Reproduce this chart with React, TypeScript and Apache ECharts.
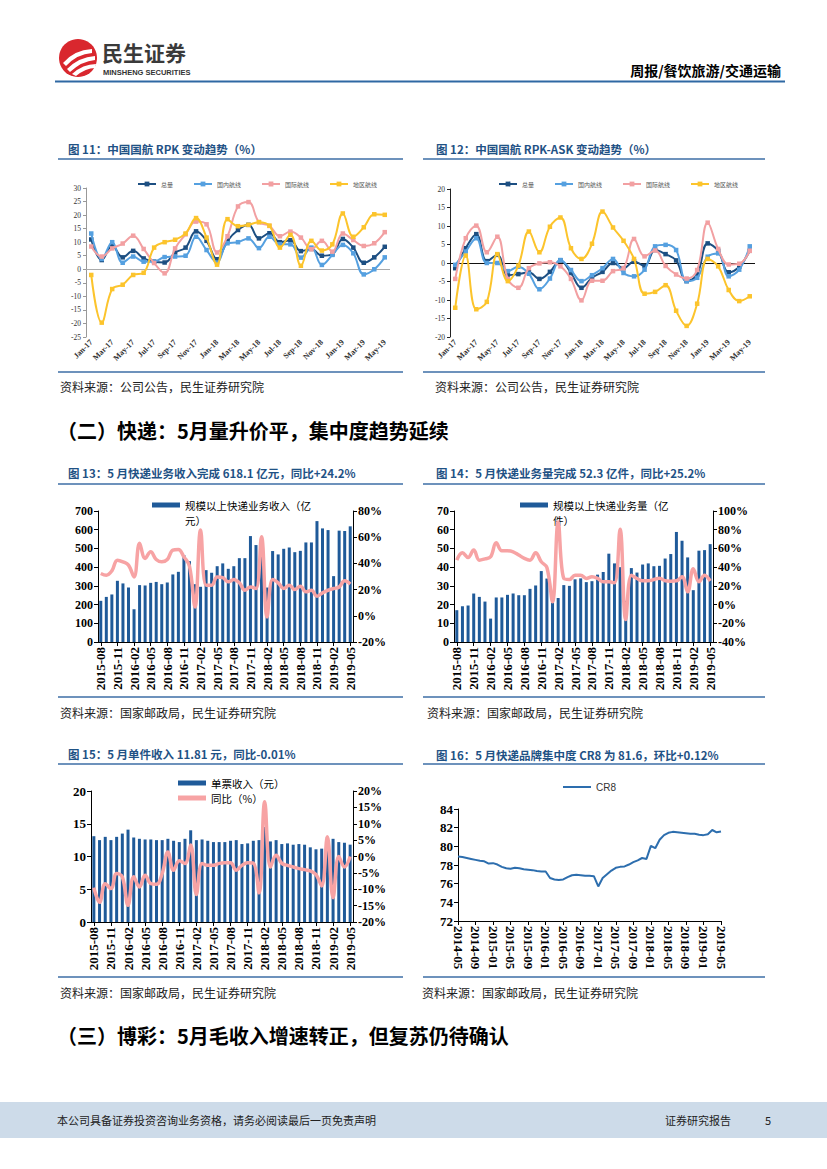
import React, { useEffect, useRef } from 'react';
import * as echarts from 'echarts';

// ---------- Chart 11 / 12 data (中国国航) ----------
const rpkMonths = ['Jan-17','Feb-17','Mar-17','Apr-17','May-17','Jun-17','Jul-17','Aug-17','Sep-17','Oct-17','Nov-17','Dec-17','Jan-18','Feb-18','Mar-18','Apr-18','May-18','Jun-18','Jul-18','Aug-18','Sep-18','Oct-18','Nov-18','Dec-18','Jan-19','Feb-19','Mar-19','Apr-19','May-19'];
const airNames = ['总量', '国内航线', '国际航线', '地区航线'];
const rpkTotal = [11, 3.4, 8.7, 4.4, 6.8, 4, 2.8, 2.5, 6.2, 8, 14, 10.5, 3.7, 10.5, 14.5, 16.4, 11.4, 13.3, 10, 10.7, 6.7, 7.5, 5, 5.5, 11.2, 8, 2.4, 4.4, 8.3];
const rpkDomestic = [13.2, 3.8, 10, 2.4, 4.7, 2.8, 2.8, 4.5, 4.7, 5, 12, 7.1, 2.5, 9.6, 10, 11.4, 7.8, 12, 9.2, 9.2, 4.3, 8, 1.6, 5.3, 9, 5.9, -1.9, 0, 4.4];
const rpkIntl = [8.4, 4.7, 7.7, 9.5, 12.4, 7.5, 2.3, -1.5, 7.7, 12.9, 17.6, 16.6, 6.2, 12.2, 23.2, 24.8, 17.4, 16, 12.2, 13.9, 11.7, 7.4, 10.5, 6.5, 13.2, 10.8, 8.6, 9.6, 13.7];
const rpkRegional = [-2.1, -19.7, -7.3, -5.7, -2.1, -1.3, 8, 10, 10.9, 13.2, 18.9, 11.7, 1.7, 18.5, 15.9, 16.4, 17.4, 16.1, 8, 12.7, 1.3, 10.5, 6.9, 9.2, 20.6, 12, 15.5, 20.3, 20.1];

const gapTotal = [-1.4, 4, 7.8, 0.5, 2.2, -3.3, -3, -2.5, -4.3, -2.4, 0.7, -2.7, -6.7, -4, -2.4, 0, -1.4, 0.4, -0.8, 3.5, 2.4, 0.7, -4.9, -3.1, 5.3, 3.3, -2.5, -1, 3.3];
const gapDomestic = [-0.5, 3.1, 6.7, 0, 0, -2.2, -1, -2.9, -7.1, -4.2, 0.8, -1.9, -4.9, -3.3, -1.4, 1.1, -2.7, -3.6, -1.8, 4.5, 4.9, 3.5, -4.9, -4, 1.7, 2.6, -3.6, -1.8, 4.5];
const gapIntl = [-4.3, 6.7, 10.1, 2.9, 7.1, -4.3, -6.7, -1.4, -0.1, 0.2, -0.9, -4.3, -10.1, -4.8, -4.8, -2.2, -1.4, 6.5, 1.8, 3.4, -0.8, -3.1, -4.2, -1.9, 10.9, 3.8, -0.4, -0.2, 3.3];
const gapRegional = [-12.1, 2, -12.5, -10.5, 2.4, -4.9, -0.7, 8.5, 2.9, 9.8, 12.3, 4, 1.1, 5.2, 13.9, 9.6, 6, 1.1, -8.3, -7.8, -6, -12.9, -17, -11, 1.1, -0.9, -7.3, -10.3, -9];

// ---------- Chart 13 / 14 / 15 data (快递) ----------
const exMonths = ['2015-08','2015-09','2015-10','2015-11','2015-12','2016-01','2016-02','2016-03','2016-04','2016-05','2016-06','2016-07','2016-08','2016-09','2016-10','2016-11','2016-12','2017-01','2017-02','2017-03','2017-04','2017-05','2017-06','2017-07','2017-08','2017-09','2017-10','2017-11','2017-12','2018-01','2018-02','2018-03','2018-04','2018-05','2018-06','2018-07','2018-08','2018-09','2018-10','2018-11','2018-12','2019-01','2019-02','2019-03','2019-04','2019-05'];
const revenue = [220, 241, 254, 327, 313, 291, 175, 304, 302, 316, 321, 309, 318, 361, 375, 464, 432, 309, 295, 384, 370, 405, 420, 391, 405, 448, 448, 566, 518, 500, 291, 486, 468, 498, 505, 480, 487, 532, 532, 646, 607, 598, 352, 595, 593, 618.1];
const revenueYoy = [32.3, 31, 34.3, 42.5, 41.2, 38.7, 29.7, 55.3, 43.8, 48.9, 43, 41.2, 43, 50.2, 50.7, 45, 37.9, 6.8, 65.5, 23.4, 23.4, 29.7, 29.2, 25.9, 27.7, 25.2, 19.5, 22, 20.8, 60.4, -0.9, 27.7, 25.2, 20.8, 23.4, 20, 22.6, 18.3, 19.5, 15, 17.5, 19.5, 20.8, 22, 26.7, 24.2];
const volume = [17, 19.1, 19.5, 25.9, 24.1, 21.6, 12.5, 23.8, 23.8, 25.2, 25.9, 25, 25, 28.4, 30.2, 37.9, 33.9, 21, 23.5, 30.4, 30, 33.5, 34, 32, 32.5, 36, 37.4, 47.2, 42, 40, 22, 39.5, 37.1, 41.4, 42, 40.5, 40.7, 44.6, 47, 58.8, 54.1, 45.2, 27.7, 48.8, 49.1, 52.3];
const volumeYoy = [47.5, 55.4, 50.4, 58.2, 47.5, 48.9, 51, 66, 57.5, 57.5, 56.4, 52.9, 49.3, 47.5, 55.4, 45.7, 39.6, 2.9, 88.2, 27.9, 26.8, 31.4, 31.4, 27.9, 29.6, 27.9, 24.3, 24.3, 23.2, 80.4, -16, 31.4, 27.9, 25.4, 25.4, 26.8, 28.2, 25.4, 25, 25.4, 29.6, 13.6, 38.2, 24.3, 31.4, 25.2];
const unitPrice = [13.1, 12.5, 13, 12.5, 13, 13.5, 14.1, 12.9, 12.7, 12.6, 12.6, 12.5, 12.5, 12.7, 12.4, 12.2, 12.7, 14, 12.5, 12.6, 12.4, 12.2, 12.2, 12.2, 12.4, 12.5, 11.9, 12, 12.4, 12.5, 14.5, 12.3, 12.5, 11.9, 12, 11.8, 11.9, 11.8, 11.4, 11.1, 11.2, 13, 12.7, 12.2, 12.1, 11.81];
const unitPriceYoy = [-9.5, -14, -8.3, -9.8, -5.2, -6.2, -14.9, -6.2, -9.3, -5.7, -8.3, -8.5, -5.2, 1.4, -4.2, -1.3, -2.1, 3.5, -11.6, -2.1, -2.7, -2.7, -2.1, -1.9, -1.9, -4.2, -2.7, -1.9, -2, -11.1, 16.7, -3.2, 0.4, -2.1, -2.7, -3.2, -3.7, -4, -4.4, -5.5, -9, 6, -12.6, 0, -3.2, -0.01];

// ---------- Chart 16 data (CR8) ----------
const crMonths = ['2014-05','2014-06','2014-07','2014-08','2014-09','2014-10','2014-11','2014-12','2015-01','2015-02','2015-03','2015-04','2015-05','2015-06','2015-07','2015-08','2015-09','2015-10','2015-11','2015-12','2016-01','2016-02','2016-03','2016-04','2016-05','2016-06','2016-07','2016-08','2016-09','2016-10','2016-11','2016-12','2017-01','2017-02','2017-03','2017-04','2017-05','2017-06','2017-07','2017-08','2017-09','2017-10','2017-11','2017-12','2018-01','2018-02','2018-03','2018-04','2018-05','2018-06','2018-07','2018-08','2018-09','2018-10','2018-11','2018-12','2019-01','2019-02','2019-03','2019-04','2019-05'];
const cr8 = [78.9, 78.85, 78.75, 78.65, 78.55, 78.45, 78.4, 78.15, 78.2, 78.05, 77.8, 77.65, 77.6, 77.7, 77.65, 77.55, 77.5, 77.45, 77.35, 77.3, 77.3, 76.6, 76.45, 76.4, 76.45, 76.7, 76.9, 76.95, 76.9, 76.85, 76.85, 76.8, 75.7, 76.6, 77.0, 77.4, 77.7, 77.8, 77.85, 78.05, 78.3, 78.5, 78.75, 78.65, 80.05, 79.8, 80.7, 81.2, 81.45, 81.55, 81.5, 81.45, 81.4, 81.35, 81.35, 81.25, 81.2, 81.3, 81.75, 81.5, 81.6];

const SERIF = 'Liberation Serif';
const CJK = 'Noto Sans CJK SC';
const airColors = ['#1d4f82', '#55a0e0', '#f2a0a2', '#fcc42c'];
const BAR = '#1f5a99';
const PINK = '#f7a3a4';
const TITLE = '#1f5285';
const RULE = '#3c6ea6';

echarts.graphic.registerShape(
  'logoStripes',
  echarts.graphic.extendPath(
    'M5,25 Q16,12 34,11 L34,15 Q19,16 8,28 Z M9,31 Q21,19 37,18 L37,22 Q24,23 12,34 Z M14,36 Q25,26 38,26 L37,30 Q28,30 18,38 Z',
    {}
  )
);

const txt = (text: string, x: number, y: number, size: number, o: any = {}) => ({
  type: 'text', x, y, silent: true,
  style: {
    text, fontSize: size, fontFamily: o.family || CJK, fontWeight: o.weight || 'normal',
    fill: o.color || '#000', align: o.align || 'left', verticalAlign: 'middle',
  },
});
const rule = (x1: number, x2: number, y: number, color = RULE, w = 1.5) => ({
  type: 'line', silent: true, shape: { x1, y1: y, x2, y2: y }, style: { stroke: color, lineWidth: w },
});

function airSeries(datas: number[][], xi: number, yi: number, zeroColor: string) {
  return datas.map((d, k) => ({
    type: 'line', name: airNames[k], data: d, xAxisIndex: xi, yAxisIndex: yi,
    smooth: 0.4, symbol: 'rect', symbolSize: 4.5, z: 3 + k,
    lineStyle: { width: 2, color: airColors[k] }, itemStyle: { color: airColors[k] },
    ...(k === 0 ? {
      markLine: {
        silent: true, symbol: 'none', label: { show: false }, z: 1,
        lineStyle: { color: zeroColor, width: 1, type: 'solid' }, data: [{ yAxis: 0 }],
      },
    } : {}),
  }));
}

const smallCat = (gridIndex: number) => ({
  gridIndex, type: 'category', data: rpkMonths, boundaryGap: true,
  axisLine: { show: false }, axisTick: { show: false },
  axisLabel: { interval: 1, rotate: 45, fontSize: 8, fontFamily: SERIF, fontWeight: 'bold', color: '#333', margin: 4 },
});
const smallVal = (gridIndex: number, min: number, max: number, color: string) => ({
  gridIndex, type: 'value', min, max, interval: 5,
  axisLine: { show: true, lineStyle: { color } }, axisTick: { show: true, length: 3, lineStyle: { color } },
  splitLine: { show: false },
  axisLabel: { fontSize: 7.5, fontFamily: SERIF, color: '#333', margin: 5 },
});
const bigCat = (gridIndex: number, data: string[], interval: number, rotate: number, boundaryGap: boolean, fontSize: number) => ({
  gridIndex, type: 'category', data, boundaryGap,
  axisLine: { show: true, lineStyle: { color: '#000' } },
  axisTick: { show: true, interval, alignWithLabel: true, length: 4, lineStyle: { color: '#000' } },
  axisLabel: { interval, rotate, fontFamily: SERIF, fontWeight: 'bold', fontSize, color: '#000', margin: 5 },
});
const bigVal = (gridIndex: number, min: number, max: number, interval: number, position: string, pct: boolean, fontSize = 12) => ({
  gridIndex, type: 'value', min, max, interval, position,
  axisLine: { show: true, lineStyle: { color: '#000' } },
  axisTick: { show: true, length: 4, lineStyle: { color: '#000' } },
  splitLine: { show: false },
  axisLabel: { fontFamily: SERIF, fontWeight: 'bold', fontSize, color: '#000', margin: 5, formatter: pct ? '{value}%' : '{value}' },
});

function buildOption() {
  const graphics: any[] = [
    // header
    { type: 'circle', silent: true, shape: { cx: 78, cy: 58, r: 19 }, style: { fill: '#d9272e' } },
    { type: 'logoStripes', silent: true, x: 58, y: 38, style: { fill: '#ffffff' } },
    txt('民生证券', 102, 51.5, 21, { weight: 'bold', color: '#3a3a3a' }),
    txt('MINSHENG SECURITIES', 103, 72.5, 7.5, { weight: 'bold', color: '#333', family: 'Liberation Sans' }),
    txt('周报/餐饮旅游/交通运输', 781, 70, 14, { weight: 'bold', align: 'right' }),
    rule(55, 785, 81.5, '#2f68a3', 2),
    // chart titles and rules
    txt('图 11：中国国航 RPK 变动趋势（%）', 68, 149, 11.5, { weight: 'bold', color: TITLE }),
    txt('图 12：中国国航 RPK-ASK 变动趋势（%）', 436, 149, 11.5, { weight: 'bold', color: TITLE }),
    rule(58, 403, 159), rule(423, 765, 159),
    rule(58, 403, 372), rule(423, 765, 372),
    txt('资料来源：公司公告，民生证券研究院', 60, 386, 12, { color: '#222' }),
    txt('资料来源：公司公告，民生证券研究院', 435, 386, 12, { color: '#222' }),
    txt('（二）快递：5月量升价平，集中度趋势延续', 57, 430, 20, { weight: 'bold' }),
    txt('图 13：5 月快递业务收入完成 618.1 亿元，同比+24.2%', 68, 473, 11.5, { weight: 'bold', color: TITLE }),
    txt('图 14：5 月快递业务量完成 52.3 亿件，同比+25.2%', 436, 473, 11.5, { weight: 'bold', color: TITLE }),
    rule(58, 403, 484), rule(423, 765, 484),
    rule(58, 403, 697), rule(423, 765, 697),
    txt('资料来源：国家邮政局，民生证券研究院', 60, 712, 12, { color: '#222' }),
    txt('资料来源：国家邮政局，民生证券研究院', 427, 712, 12, { color: '#222' }),
    txt('图 15：5 月单件收入 11.81 元，同比-0.01%', 68, 754, 11.5, { weight: 'bold', color: TITLE }),
    txt('图 16：5 月快递品牌集中度 CR8 为 81.6，环比+0.12%', 436, 755, 11.5, { weight: 'bold', color: TITLE }),
    rule(58, 403, 764), rule(423, 765, 764),
    rule(58, 403, 977), rule(423, 765, 977),
    txt('资料来源：国家邮政局，民生证券研究院', 60, 992, 12, { color: '#222' }),
    txt('资料来源：国家邮政局，民生证券研究院', 422, 992, 12, { color: '#222' }),
    txt('（三）博彩：5月毛收入增速转正，但复苏仍待确认', 57, 1035, 20, { weight: 'bold' }),
    // footer
    { type: 'rect', silent: true, shape: { x: 0, y: 1102, width: 827, height: 36 }, style: { fill: '#cddbe9' } },
    txt('本公司具备证券投资咨询业务资格，请务必阅读最后一页免责声明', 57, 1120, 11, { color: '#222' }),
    txt('证券研究报告', 665, 1120, 11, { color: '#222' }),
    txt('5', 765, 1120, 11, { color: '#222' }),
  ];

  const splitLegend = (name: string) => '\n' + name.slice(0, -2) + '\n' + name.slice(-2);

  return {
    animation: false,
    backgroundColor: '#ffffff',
    grid: [
      { left: 86, top: 188, width: 304, height: 149 },
      { left: 450, top: 189, width: 305, height: 148 },
      { left: 98, top: 511, width: 255, height: 131 },
      { left: 454, top: 511, width: 259, height: 131 },
      { left: 91, top: 791, width: 262, height: 131 },
      { left: 458, top: 809, width: 263, height: 112 },
    ],
    legend: [
      {
        left: 137, top: 181, padding: 0, itemWidth: 18, itemHeight: 6, itemGap: 20,
        textStyle: { fontSize: 6, color: '#555', fontFamily: CJK }, data: airNames,
      },
      {
        left: 498, top: 181, padding: 0, itemWidth: 18, itemHeight: 6, itemGap: 20,
        textStyle: { fontSize: 6, color: '#555', fontFamily: CJK }, data: airNames,
      },
      {
        left: 152, top: 482.5, padding: 0, itemWidth: 28, itemHeight: 5,
        formatter: splitLegend,
        textStyle: { fontSize: 10.5, lineHeight: 15, color: '#000', fontFamily: CJK },
        data: [{ name: '规模以上快递业务收入（亿元）', icon: 'rect' }],
      },
      {
        left: 520, top: 482.5, padding: 0, itemWidth: 28, itemHeight: 5,
        formatter: splitLegend,
        textStyle: { fontSize: 10.5, lineHeight: 15, color: '#000', fontFamily: CJK },
        data: [{ name: '规模以上快递业务量（亿件）', icon: 'rect' }],
      },
      {
        left: 178, top: 777, padding: 0, orient: 'vertical', itemWidth: 28, itemHeight: 5, itemGap: 3,
        textStyle: { fontSize: 10.5, lineHeight: 12, color: '#000', fontFamily: CJK },
        data: [{ name: '单票收入（元）', icon: 'rect' }, { name: '同比（%）', icon: 'rect' }],
      },
      {
        left: 563, top: 781, padding: 0, itemWidth: 28, itemHeight: 2,
        textStyle: { fontSize: 10, lineHeight: 12, color: '#333', fontFamily: 'Liberation Sans' },
        data: [{ name: 'CR8', icon: 'rect' }],
      },
    ],
    xAxis: [
      smallCat(0),
      smallCat(1),
      bigCat(2, exMonths, 2, 90, true, 13),
      bigCat(3, exMonths, 2, 90, true, 13),
      bigCat(4, exMonths, 2, 90, true, 13),
      bigCat(5, crMonths, 3, -90, false, 13),
    ],
    yAxis: [
      smallVal(0, -25, 30, '#999'),
      smallVal(1, -20, 20, '#222'),
      bigVal(2, 0, 700, 100, 'left', false),
      bigVal(2, -20, 80, 20, 'right', true),
      bigVal(3, 0, 70, 10, 'left', false),
      bigVal(3, -40, 100, 20, 'right', true),
      bigVal(4, 0, 20, 5, 'left', false, 13),
      bigVal(4, -20, 20, 5, 'right', true),
      bigVal(5, 72, 84, 2, 'left', false, 13),
    ],
    series: [
      ...airSeries([rpkTotal, rpkDomestic, rpkIntl, rpkRegional], 0, 0, '#aaa'),
      ...airSeries([gapTotal, gapDomestic, gapIntl, gapRegional], 1, 1, '#111'),
      {
        type: 'bar', name: '规模以上快递业务收入（亿元）', data: revenue, xAxisIndex: 2, yAxisIndex: 2,
        barWidth: 3, itemStyle: { color: BAR },
      },
      {
        type: 'line', name: '快递业务收入同比', data: revenueYoy, xAxisIndex: 2, yAxisIndex: 3,
        smooth: 0.4, showSymbol: false, lineStyle: { width: 3.5, color: PINK }, itemStyle: { color: PINK }, z: 5,
      },
      {
        type: 'bar', name: '规模以上快递业务量（亿件）', data: volume, xAxisIndex: 3, yAxisIndex: 4,
        barWidth: 3, itemStyle: { color: BAR },
      },
      {
        type: 'line', name: '快递业务量同比', data: volumeYoy, xAxisIndex: 3, yAxisIndex: 5,
        smooth: 0.4, showSymbol: false, lineStyle: { width: 3.5, color: PINK }, itemStyle: { color: PINK }, z: 5,
      },
      {
        type: 'bar', name: '单票收入（元）', data: unitPrice, xAxisIndex: 4, yAxisIndex: 6,
        barWidth: 3, itemStyle: { color: BAR },
      },
      {
        type: 'line', name: '同比（%）', data: unitPriceYoy, xAxisIndex: 4, yAxisIndex: 7,
        smooth: 0.4, showSymbol: false, lineStyle: { width: 3.5, color: PINK }, itemStyle: { color: PINK }, z: 5,
      },
      {
        type: 'line', name: 'CR8', data: cr8, xAxisIndex: 5, yAxisIndex: 8,
        showSymbol: false, lineStyle: { width: 2, color: '#2d6eae' }, itemStyle: { color: '#2d6eae' },
      },
    ],
    graphic: { elements: graphics },
  };
}

export default function App() {
  const ref = useRef<HTMLDivElement>(null);
  useEffect(() => {
    if (!ref.current) return;
    const chart = echarts.init(ref.current, undefined, { renderer: 'svg' });
    chart.setOption(buildOption() as any);
    return () => chart.dispose();
  }, []);
  return (
    <div
      ref={ref}
      style={{ position: 'absolute', left: 0, top: 0, width: 827, height: 1169, background: '#fff' }}
    />
  );
}
